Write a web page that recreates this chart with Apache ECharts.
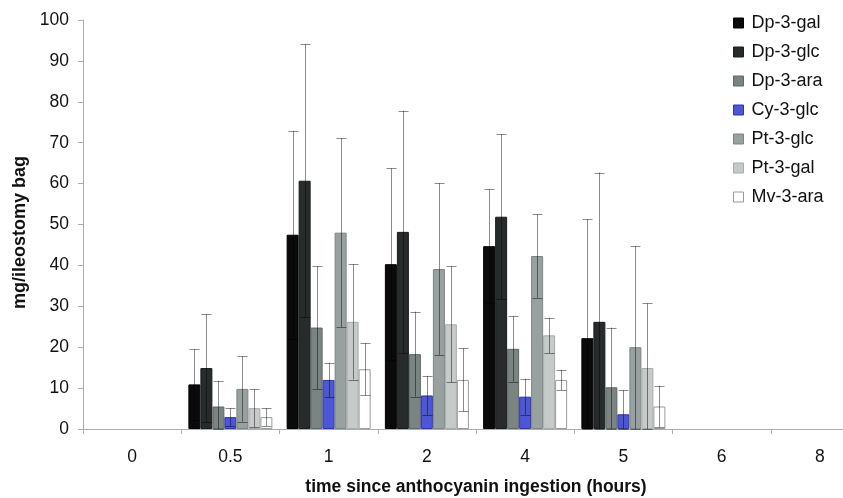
<!DOCTYPE html>
<html>
<head>
<meta charset="utf-8">
<script src="https://cdn.jsdelivr.net/npm/echarts@6/dist/echarts.min.js"></script>
<style>
	html, body { margin: 0; padding: 0; background: #fff; }
	#chart { width: 843px; height: 498px; }
</style>
</head>
<body>
<div id="chart"></div>
<script>
// 横轴类目
const categories = ['0', '0.5', '1', '2', '4', '5', '6', '8']
const seriesNames = ['Dp-3-gal', 'Dp-3-glc', 'Dp-3-ara', 'Cy-3-glc', 'Pt-3-glc', 'Pt-3-gal', 'Mv-3-ara']

// 均值
const dp3gal = ['-', 10.9, 47.5, 40.3, 44.7, 22.2, '-', '-']
const dp3glc = ['-', 14.9, 60.7, 48.2, 51.9, 26.2, '-', '-']
const dp3ara = ['-', 5.5, 24.8, 18.3, 19.6, 10.2, '-', '-']
const cy3glc = ['-', 2.9, 12.0, 8.2, 7.9, 3.6, '-', '-']
const pt3glc = ['-', 9.8, 48.0, 39.1, 42.3, 20.0, '-', '-']
const pt3gal = ['-', 5.1, 26.2, 25.6, 22.9, 14.9, '-', '-']
const mv3ara = ['-', 2.9, 14.6, 12.0, 12.0, 5.5, '-', '-']

// 标准差 (误差棒)
const dp3galSd = ['-', 8.6, 25.4, 23.4, 13.9, 29.1, '-', '-']
const dp3glcSd = ['-', 13.2, 33.4, 29.6, 20.2, 36.5, '-', '-']
const dp3araSd = ['-', 6.3, 15.0, 10.4, 8.0, 14.6, '-', '-']
const cy3glcSd = ['-', 2.2, 4.2, 4.8, 4.4, 5.9, '-', '-']
const pt3glcSd = ['-', 8.0, 23.1, 21.0, 10.2, 24.7, '-', '-']
const pt3galSd = ['-', 4.7, 14.1, 14.2, 4.3, 15.8, '-', '-']
const mv3araSd = ['-', 2.2, 6.4, 7.7, 2.5, 5.1, '-', '-']

// y轴刻度
const yMin = 0
const yMax = 100
const yStep = 10

const means = [dp3gal, dp3glc, dp3ara, cy3glc, pt3glc, pt3gal, mv3ara]
const sds = [dp3galSd, dp3glcSd, dp3araSd, cy3glcSd, pt3glcSd, pt3galSd, mv3araSd]
const colors = ['#0a0a0a', '#272b2c', '#7a8482', '#4d57d6', '#98a19f', '#c6cbc9', '#ffffff']
const borders = ['#000000', '#1a1d1e', '#5f6866', '#2f37a8', '#7c8583', '#a6acaa', '#9a9a9a']

const font = "'Liberation Sans', Arial, sans-serif"
const barW = 12

const chart = echarts.init(document.getElementById('chart'))

const barSeries = seriesNames.map((name, i) => ({
	name: name,
	type: 'bar',
	barWidth: barW,
	barGap: '0%',
	itemStyle: {
		color: colors[i],
		borderColor: borders[i],
		borderWidth: 1,
	},
	data: means[i],
	z: 2,
}))

// 误差棒
const errSeries = seriesNames.map((name, i) => ({
	type: 'custom',
	name: name + '-err',
	z: 5,
	silent: true,
	data: means[i].map((m, k) => (m === '-' ? null : [k, m, sds[i][k]])).filter(d => d),
	renderItem(params, api) {
		const k = api.value(0)
		const m = api.value(1)
		const sd = api.value(2)
		const hi = api.coord([k, m + sd])
		const lo = api.coord([k, Math.max(0, m - sd)])
		const x = Math.round(hi[0] + (i - 3) * barW) + 0.5
		const cap = 5
		const style = { stroke: 'rgba(0,0,0,0.45)', lineWidth: 1 }
		return {
			type: 'group',
			children: [
				{ type: 'line', shape: { x1: x, y1: hi[1], x2: x, y2: lo[1] }, style: style },
				{ type: 'line', shape: { x1: x - cap, y1: Math.round(hi[1]) + 0.5, x2: x + cap, y2: Math.round(hi[1]) + 0.5 }, style: style },
				{ type: 'line', shape: { x1: x - cap, y1: Math.round(lo[1]) + 0.5, x2: x + cap, y2: Math.round(lo[1]) + 0.5 }, style: style },
			],
		}
	},
}))

const option = {
	animation: false,
	backgroundColor: '#ffffff',
	textStyle: { fontFamily: font },
	grid: {
		left: 83,
		top: 20,
		width: 786,
		bottom: 69,
		outerBoundsMode: 'none',
	},
	legend: {
		orient: 'vertical',
		left: 728,
		top: 9,
		itemWidth: 10,
		itemHeight: 10,
		itemGap: 11,
		icon: 'rect',
		textStyle: { fontSize: 18, color: '#111', fontFamily: font, padding: [0, 0, 0, 3] },
		data: seriesNames.map((n, i) => ({
			name: n,
			itemStyle: { borderColor: i === 6 ? '#999' : borders[i], borderWidth: 1 },
		})),
	},
	xAxis: {
		type: 'category',
		data: categories,
		name: 'time since anthocyanin ingestion (hours)',
		nameLocation: 'middle',
		nameGap: 49,
		nameTextStyle: { fontSize: 17.5, fontWeight: 'bold', color: '#111', fontFamily: font },
		axisLine: { lineStyle: { color: '#a9adad', width: 1 } },
		axisTick: { show: true, length: 5, lineStyle: { color: '#a9adad' } },
		axisLabel: { fontSize: 17.5, color: '#111', margin: 19, fontFamily: font },
		splitLine: { show: false },
	},
	yAxis: {
		type: 'value',
		min: yMin,
		max: yMax,
		interval: yStep,
		name: 'mg/ileostomy bag',
		nameLocation: 'middle',
		nameGap: 47,
		nameTextStyle: { fontSize: 18, fontWeight: 'bold', color: '#111', fontFamily: font, padding: [0, 16, 0, 0] },
		axisLine: { show: true, lineStyle: { color: '#a9adad', width: 1 } },
		axisTick: { show: true, length: 5, lineStyle: { color: '#a9adad' } },
		axisLabel: { fontSize: 17.5, color: '#111', margin: 14, fontFamily: font },
		splitLine: { show: false },
	},
	series: barSeries.concat(errSeries),
}

chart.setOption(option)
</script>
</body>
</html>
